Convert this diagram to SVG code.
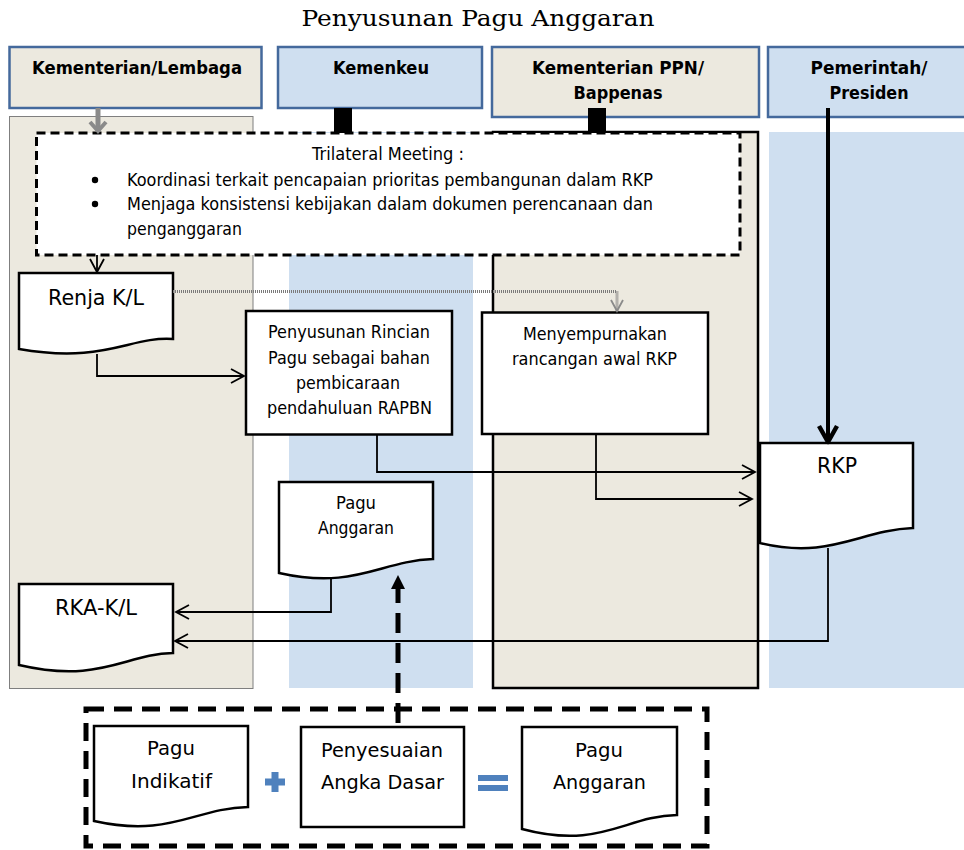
<svg xmlns="http://www.w3.org/2000/svg" width="964" height="850" viewBox="0 0 964 850">
<defs>
<style>
.hdr{stroke:#44699c;stroke-width:2.5}
.beige{fill:#ece9df}
.blue{fill:#cfdff0}
.ht{font-family:"DejaVu Sans",Verdana,sans-serif;font-weight:bold;font-size:17px;fill:#000;text-anchor:middle}
.t{font-family:"DejaVu Sans",Verdana,sans-serif;font-size:17px;fill:#000;text-anchor:middle}
.tl{font-family:"DejaVu Sans",Verdana,sans-serif;font-size:17px;fill:#000}
.big{font-size:21px}
.mid{font-size:20px}
.node{fill:#fff;stroke:#000;stroke-width:2.5}
.ln{fill:none;stroke:#000;stroke-width:1.8}
</style>
<marker id="ah" markerUnits="userSpaceOnUse" markerWidth="16" markerHeight="16" viewBox="0 0 16 16" refX="14" refY="8" orient="auto">
<path d="M1,1 L14,8 L1,15" fill="none" stroke="#000" stroke-width="1.8"/>
</marker>
<marker id="ahg" markerUnits="userSpaceOnUse" markerWidth="16" markerHeight="16" viewBox="0 0 16 16" refX="13" refY="8" orient="auto">
<path d="M2,2 L13,8 L2,14" fill="none" stroke="#8a8a8a" stroke-width="1.8"/>
</marker>
</defs>

<text x="478" y="26" font-family="'DejaVu Serif','Liberation Serif',serif" font-size="23" text-anchor="middle" textLength="353" lengthAdjust="spacingAndGlyphs">Penyusunan Pagu Anggaran</text>

<g id="lanes">
<rect x="9.5" y="116.5" width="243.5" height="572" class="beige" stroke="#7f7f7f" stroke-width="1"/>
<rect x="289" y="132" width="184" height="556" class="blue"/>
<rect x="493" y="132" width="265" height="556" class="beige" stroke="#000" stroke-width="2.5"/>
<rect x="769" y="132" width="200" height="556" class="blue"/>
</g>

<g id="hdr-kl">
<rect x="9.5" y="47" width="252" height="61" class="beige hdr"/>
<text x="137" y="74" class="ht" textLength="210" lengthAdjust="spacingAndGlyphs">Kementerian/Lembaga</text>
</g>
<g id="hdr-kemenkeu">
<rect x="278" y="47" width="204" height="61" class="blue hdr"/>
<text x="381" y="74" class="ht" textLength="96" lengthAdjust="spacingAndGlyphs">Kemenkeu</text>
</g>
<g id="hdr-ppn">
<rect x="492" y="47" width="267" height="70" class="beige hdr"/>
<text x="618" y="74" class="ht" textLength="172" lengthAdjust="spacingAndGlyphs">Kementerian PPN/</text>
<text x="618" y="99" class="ht" textLength="89" lengthAdjust="spacingAndGlyphs">Bappenas</text>
</g>
<g id="hdr-presiden">
<rect x="768" y="47" width="205" height="70" class="blue hdr"/>
<text x="869" y="74" class="ht" textLength="117" lengthAdjust="spacingAndGlyphs">Pemerintah/</text>
<text x="869" y="99" class="ht" textLength="79" lengthAdjust="spacingAndGlyphs">Presiden</text>
</g>

<g id="trilateral">
<rect x="36.5" y="133" width="703.5" height="122" fill="#fff" stroke="#000" stroke-width="3" stroke-dasharray="9 5"/>
<text x="388" y="160" class="t" textLength="152" lengthAdjust="spacingAndGlyphs">Trilateral Meeting :</text>
<circle cx="95" cy="180" r="3.2" fill="#000"/>
<circle cx="95" cy="204" r="3.2" fill="#000"/>
<text x="127" y="186" class="tl" textLength="526" lengthAdjust="spacingAndGlyphs">Koordinasi terkait pencapaian prioritas pembangunan dalam RKP</text>
<text x="127" y="210" class="tl" textLength="526" lengthAdjust="spacingAndGlyphs">Menjaga konsistensi kebijakan dalam dokumen perencanaan dan</text>
<text x="127" y="235" class="tl" textLength="115" lengthAdjust="spacingAndGlyphs">penganggaran</text>
</g>

<g id="renja">
<path d="M19,273 H173 V339 C130,336 105,364 19,349 Z" class="node" stroke-width="3"/>
<text x="96" y="305" class="t big" textLength="96" lengthAdjust="spacingAndGlyphs">Renja K/L</text>
</g>

<g id="penyusunan">
<rect x="246" y="311" width="206" height="123.5" class="node"/>
<text x="349" y="338" class="t" textLength="162" lengthAdjust="spacingAndGlyphs">Penyusunan Rincian</text>
<text x="349" y="364" class="t" textLength="162" lengthAdjust="spacingAndGlyphs">Pagu sebagai bahan</text>
<text x="348" y="389" class="t" textLength="104" lengthAdjust="spacingAndGlyphs">pembicaraan</text>
<text x="349.5" y="414" class="t" textLength="165" lengthAdjust="spacingAndGlyphs">pendahuluan RAPBN</text>
</g>

<g id="menyempurnakan">
<rect x="482" y="312.5" width="226" height="121.5" class="node"/>
<text x="595" y="340" class="t" textLength="144" lengthAdjust="spacingAndGlyphs">Menyempurnakan</text>
<text x="594.5" y="365" class="t" textLength="165" lengthAdjust="spacingAndGlyphs">rancangan awal RKP</text>
</g>

<g id="rkp">
<path d="M760,443 H913 V528 C860,530 830,560 760,543 Z" class="node" stroke-width="2"/>
<text x="837" y="473" class="t big" textLength="40" lengthAdjust="spacingAndGlyphs">RKP</text>
</g>

<g id="pagu-anggaran-kemenkeu">
<path d="M279,482 H433 V559 C380,561 355,590 279,573 Z" class="node"/>
<text x="356" y="509" class="t" textLength="40" lengthAdjust="spacingAndGlyphs">Pagu</text>
<text x="356" y="534" class="t" textLength="76" lengthAdjust="spacingAndGlyphs">Anggaran</text>
</g>

<g id="rka-kl">
<path d="M19,584 H173 V653 C125,654 100,684 19,665 Z" class="node" stroke-width="3"/>
<text x="96" y="615" class="t big" textLength="82" lengthAdjust="spacingAndGlyphs">RKA-K/L</text>
</g>

<g id="bottom-box">
<rect x="86" y="709" width="621" height="137" fill="none" stroke="#000" stroke-width="5" stroke-dasharray="18 10"/>
</g>

<g id="pagu-indikatif">
<path d="M94,726 H248 V807 C195,808 170,838 94,821 Z" class="node"/>
<text x="171" y="755" class="t mid" textLength="48" lengthAdjust="spacingAndGlyphs">Pagu</text>
<text x="171.5" y="788" class="t mid" textLength="81" lengthAdjust="spacingAndGlyphs">Indikatif</text>
</g>

<g id="plus">
<rect x="265" y="778.5" width="20" height="7" fill="#4f81bd"/>
<rect x="271.5" y="772" width="7" height="20" fill="#4f81bd"/>
</g>

<g id="penyesuaian">
<rect x="301" y="727" width="163" height="100" class="node"/>
<text x="382" y="757" class="t mid" textLength="122" lengthAdjust="spacingAndGlyphs">Penyesuaian</text>
<text x="382.5" y="789" class="t mid" textLength="123" lengthAdjust="spacingAndGlyphs">Angka Dasar</text>
</g>

<g id="equals">
<rect x="478" y="775" width="30" height="6" fill="#4f81bd"/>
<rect x="478" y="785" width="30" height="6" fill="#4f81bd"/>
</g>

<g id="pagu-anggaran-bottom">
<path d="M522,727 H677 V815 C625,816 600,850 522,829 Z" class="node"/>
<text x="599" y="757" class="t mid" textLength="48" lengthAdjust="spacingAndGlyphs">Pagu</text>
<text x="599.5" y="789" class="t mid" textLength="93" lengthAdjust="spacingAndGlyphs">Anggaran</text>
</g>

<g id="connectors">
<line x1="98" y1="108" x2="98" y2="130" stroke="#8a8a8a" stroke-width="5"/>
<path d="M90,122 L98,131 L106,122" fill="none" stroke="#8a8a8a" stroke-width="4"/>
<rect x="334" y="108" width="18" height="25" fill="#000"/>
<rect x="588" y="108" width="18" height="25" fill="#000"/>
<line x1="828" y1="108" x2="828" y2="441" stroke="#000" stroke-width="4"/>
<path d="M819,426 L828,442 L837,426" fill="none" stroke="#000" stroke-width="4.5" stroke-linejoin="round"/>
<line x1="97" y1="255" x2="97" y2="272" class="ln" stroke-width="2.2" marker-end="url(#ah)"/>
<path d="M173,291.5 H617 V311" fill="none" stroke="#7a7a7a" stroke-width="3" stroke-dasharray="1 1" marker-end="url(#ahg)"/>
<path d="M97,354 V376 H244" class="ln" stroke-width="2.2" marker-end="url(#ah)"/>
<path d="M377,435 V472 H755" class="ln" marker-end="url(#ah)"/>
<path d="M596,434 V499 H752" class="ln" marker-end="url(#ah)"/>
<path d="M331,577 V612 H176" class="ln" marker-end="url(#ah)"/>
<path d="M828,548 V641 H175" class="ln" marker-end="url(#ah)"/>
<line x1="398" y1="723" x2="398" y2="588" stroke="#000" stroke-width="5" stroke-dasharray="20 10"/>
<path d="M398,575 L391,589 L405,589 Z" fill="#000"/>
</g>
</svg>
